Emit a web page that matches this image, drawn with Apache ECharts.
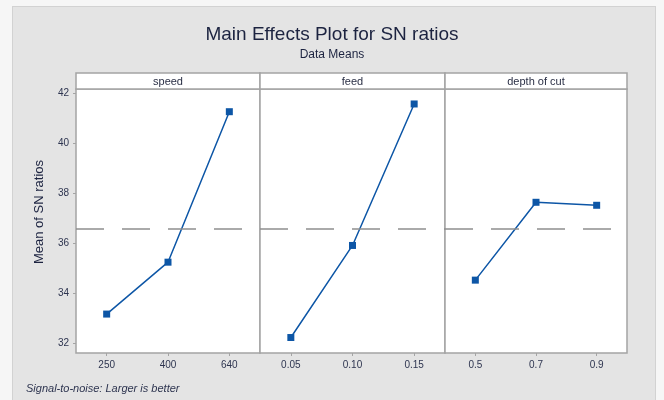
<!DOCTYPE html>
<html>
<head>
<meta charset="utf-8">
<script src="https://cdn.jsdelivr.net/npm/echarts@6/dist/echarts.min.js"></script>
<style>
  html, body { margin: 0; padding: 0; background: #f6f6f6; }
  #panel { position: absolute; left: 12px; top: 6px; width: 644px; height: 400px;
           background: #e4e4e4; border: 1px solid #d2d2d2; box-sizing: border-box; }
  #chart { position: absolute; left: 0; top: 0; width: 664px; height: 400px; }
</style>
</head>
<body>
<div id="panel"></div>
<div id="chart"></div>
<script>
// Factor names and their levels
const factors = ['speed', 'feed', 'depth of cut'];
const speedLevels = ['250', '400', '640'];
const feedLevels = ['0.05', '0.10', '0.15'];
const depthLevels = ['0.5', '0.7', '0.9'];

// Mean S/N ratio at each level
const speedMeans = [33.15, 35.23, 41.26];
const feedMeans = [32.21, 35.90, 41.57];
const depthMeans = [34.51, 37.63, 37.51];

// Y axis ticks
const yTicks = [32, 34, 36, 38, 40, 42];

const levels = [speedLevels, feedLevels, depthLevels];
const means = [speedMeans, feedMeans, depthMeans];

// overall mean of all level means (reference line)
const allVals = [].concat(speedMeans, feedMeans, depthMeans);
const grandMean = allVals.reduce((a, b) => a + b, 0) / allVals.length;

const lineColor = '#0d56a6';
const frameColor = '#a4a4a4';
const textColor = '#2e3550';
const font = 'Liberation Sans';

const plotTop = 89, plotBottom = 353, stripTop = 73;
const panelLefts = [76, 260, 445];
const panelWidths = [184, 185, 182];

const grids = [], xAxes = [], yAxes = [], series = [], graphics = [], titles = [];

titles.push({
  text: 'Main Effects Plot for SN ratios',
  left: 'center', top: 20,
  textStyle: { fontFamily: font, fontSize: 19, fontWeight: 'normal', color: '#1c2340' },
  subtext: 'Data Means',
  itemGap: 5,
  subtextStyle: { fontFamily: font, fontSize: 12, color: '#1c2340' }
});

for (let i = 0; i < 3; i++) {
  grids.push({
    left: panelLefts[i], top: plotTop, width: panelWidths[i], height: plotBottom - plotTop,
    show: true, backgroundColor: '#ffffff', borderColor: frameColor, borderWidth: 1.5
  });
  xAxes.push({
    type: 'category', gridIndex: i, data: levels[i], boundaryGap: true,
    axisLine: { show: false },
    axisTick: { show: true, alignWithLabel: true, length: 3, lineStyle: { color: frameColor } },
    axisLabel: { fontFamily: font, fontSize: 10, color: textColor, margin: 7 },
    splitLine: { show: false }
  });
  yAxes.push({
    type: 'value', gridIndex: i, min: 31.59, max: 42.17,
    axisLine: { show: false },
    axisTick: { show: i === 0, length: 3, customValues: yTicks, lineStyle: { color: frameColor } },
    axisLabel: { show: i === 0, fontFamily: font, fontSize: 10, color: textColor, margin: 7, customValues: yTicks },
    splitLine: { show: false }
  });
  series.push({
    type: 'line', xAxisIndex: i, yAxisIndex: i, data: means[i],
    symbol: 'rect', symbolSize: 7,
    lineStyle: { color: lineColor, width: 1.5 },
    itemStyle: { color: lineColor },
    animation: false,
    markLine: {
      silent: true, symbol: 'none', animation: false,
      label: { show: false },
      lineStyle: { color: '#8e8e8e', width: 1.5, type: [28, 18] },
      data: [{ yAxis: grandMean }]
    }
  });
  // strip with factor name above each panel
  graphics.push({
    type: 'rect',
    shape: { x: panelLefts[i], y: stripTop, width: panelWidths[i], height: plotTop - stripTop },
    style: { fill: '#ffffff', stroke: frameColor, lineWidth: 1.5 }
  });
  graphics.push({
    type: 'text',
    x: panelLefts[i] + panelWidths[i] / 2, y: (stripTop + plotTop) / 2 + 0.5,
    style: { text: factors[i], fontFamily: font, fontSize: 11, fill: '#2a2f45',
             align: 'center', verticalAlign: 'middle' }
  });
}

// y axis title
graphics.push({
  type: 'text', x: 39, y: 212, rotation: Math.PI / 2,
  style: { text: 'Mean of SN ratios', fontFamily: font, fontSize: 13, fill: '#1c2340',
           align: 'center', verticalAlign: 'middle' }
});

graphics.push({
  type: 'text', x: 26, y: 389,
  style: { text: 'Signal-to-noise: Larger is better', fontFamily: font, fontSize: 11,
           fontStyle: 'italic', fill: '#2e3550', align: 'left', verticalAlign: 'middle' }
});

const chart = echarts.init(document.getElementById('chart'), null, { renderer: 'canvas' });
chart.setOption({
  backgroundColor: 'transparent',
  animation: false,
  title: titles,
  grid: grids,
  xAxis: xAxes,
  yAxis: yAxes,
  series: series,
  graphic: graphics
});
</script>
</body>
</html>
